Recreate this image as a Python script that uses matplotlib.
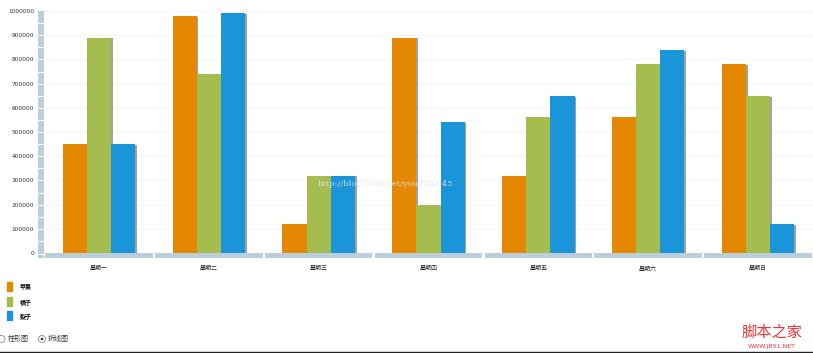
import matplotlib
matplotlib.use('agg')
import matplotlib.pyplot as plt
import matplotlib.patheffects as pe
import matplotlib.transforms as mtrans
from matplotlib.patches import Rectangle, Ellipse
import numpy as np

plt.rcParams['font.family'] = ['Noto Sans CJK SC', 'DejaVu Sans']

# data
days = ['星期一', '星期二', '星期三', '星期四', '星期五', '星期六', '星期日']
series_names = ['苹果', '橘子', '梨子']
apple = [450000, 980000, 120000, 890000, 320000, 560000, 780000]
orange = [890000, 740000, 320000, 200000, 560000, 780000, 650000]
pear = [450000, 990000, 320000, 540000, 650000, 840000, 120000]
colors = ['#e48701', '#a5bc4e', '#1b95d9']
yticks = np.arange(0, 1000001, 100000)

W, H = 813, 353
fig = plt.figure(figsize=(W / 100, H / 100), dpi=100)
ax = fig.add_axes([44 / W, 1 - 253 / H, 769 / W, (253 - 11) / H])

x = np.arange(len(days))
bw = 0.22
shadow = [pe.SimplePatchShadow(offset=(1.2, -0.6), shadow_rgbFace='#555555', alpha=0.55), pe.Normal()]
for i, vals in enumerate([apple, orange, pear]):
    bars = ax.bar(x + (i - 1) * bw, vals, width=bw, color=colors[i], linewidth=0, zorder=3)
    for b in bars:
        b.set_path_effects(shadow)

ax.set_xlim(-0.5, len(days) - 0.5)
ax.set_ylim(0, 1000000)
for s in ax.spines.values():
    s.set_visible(False)
ax.set_yticks(yticks)
ax.set_yticklabels([str(v) for v in yticks], fontsize=4.2, color='#333333', family='DejaVu Sans')
ax.tick_params(axis='y', length=5, pad=2, color='#aaaaaa', width=0.6, direction='out')
ax.tick_params(axis='x', length=0, pad=9)
ax.set_xticks(x)
ax.set_xticklabels(days, fontsize=4.3, color='#222222')
ax.grid(axis='y', color='#f3f3f3', linewidth=0.6, zorder=0)

# y axis band
ax.add_patch(Rectangle((-6 / 769, -5 / 242), 6 / 769, 1 + 5 / 242, transform=ax.transAxes,
                       color='#bccddb', clip_on=False, zorder=2, linewidth=0))
for v in np.arange(50000, 1000000, 50000):
    ax.plot([-6 / 769, 0], [v / 1e6, v / 1e6], transform=ax.transAxes, color='white',
            linewidth=0.7, clip_on=False, zorder=2)
ax.plot([-6 / 769, 0], [-1 / 242, -1 / 242], transform=ax.transAxes, color='white',
        linewidth=0.8, clip_on=False, zorder=2)

# x axis band with white separators
trans = mtrans.blended_transform_factory(ax.transData, ax.transAxes)
for k in range(len(days)):
    ax.add_patch(Rectangle((k - 0.5 + 0.01, -5 / 242), 0.98, 5 / 242, transform=trans,
                           color='#bccddb', clip_on=False, zorder=2, linewidth=0))

# watermark in the middle
fig.text(318 / W, 1 - 184 / H, 'http://blog.csdn.net/you23hai45', fontsize=6,
         family='DejaVu Serif', color='#e4e4e4', alpha=0.9, va='center')

# legend
for i, name in enumerate(series_names):
    yc = [287, 302, 316][i]
    fig.patches.append(Rectangle((7 / W, 1 - (yc + 4) / H), 5 / W, 9 / H,
                                 transform=fig.transFigure, color=colors[i], figure=fig))
    fig.text(20 / W, 1 - yc / H, name, fontsize=4.3, color='#111111', va='center',
             fontweight='bold')

# radio buttons
def radio(cx, cy, checked):
    fig.patches.append(Ellipse((cx / W, 1 - cy / H), 7 / W, 7 / H, transform=fig.transFigure,
                               facecolor='white', edgecolor='#777777', linewidth=0.5, figure=fig))
    if checked:
        fig.patches.append(Ellipse((cx / W, 1 - cy / H), 2.6 / W, 2.6 / H, transform=fig.transFigure,
                                   facecolor='#333333', linewidth=0, figure=fig))

radio(1.5, 339, False)
fig.text(8 / W, 1 - 339 / H, '柱形图', fontsize=5, color='#333333', va='center')
radio(42, 339, True)
fig.text(48 / W, 1 - 339 / H, '折线图', fontsize=5, color='#333333', va='center')

# site watermark
fig.text(772 / W, 1 - 332 / H, '脚本之家', fontsize=11, color='#e8383d', ha='center', va='center')
fig.text(772 / W, 1 - 346.5 / H, 'WWW.JB51.NET', fontsize=4.5, color='#e8383d', ha='center',
         va='center', family='DejaVu Sans')

# bottom border line
fig.add_artist(plt.Line2D([0, 1], [1 - 351.5 / H, 1 - 351.5 / H], transform=fig.transFigure,
                          color='#222222', linewidth=1.0))

fig.savefig('out.png', dpi=100)
